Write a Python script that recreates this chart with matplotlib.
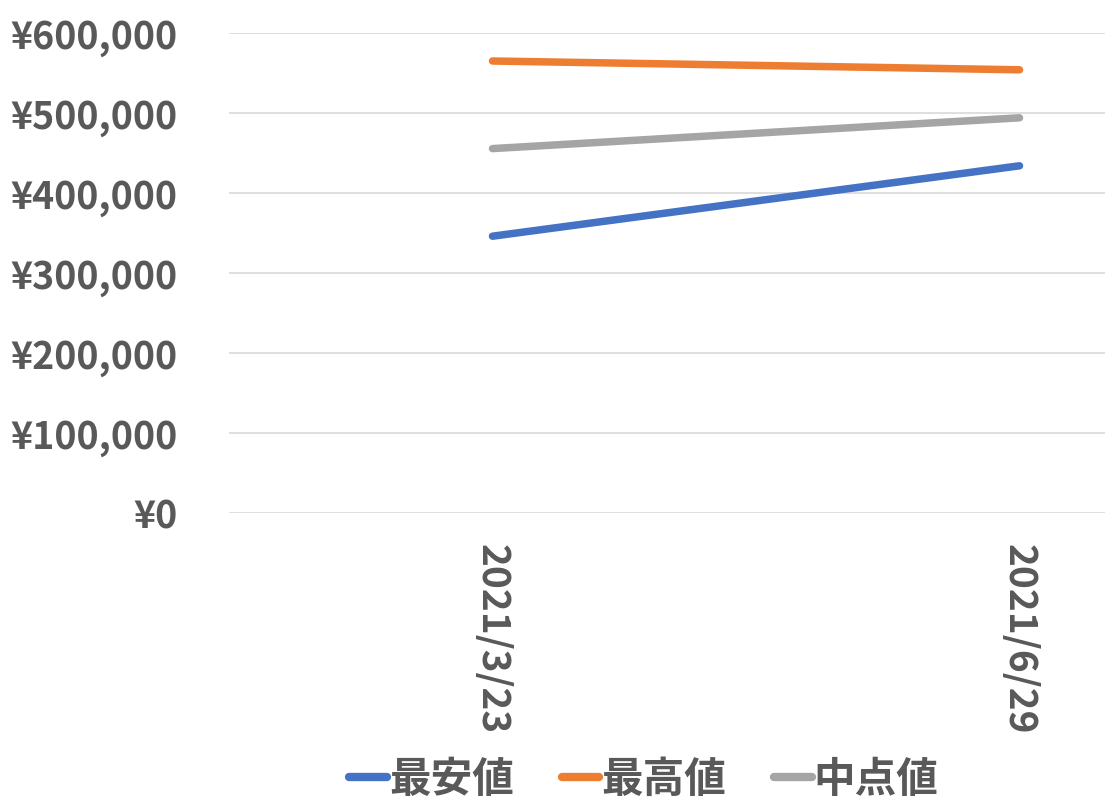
import matplotlib
matplotlib.use("Agg")
import matplotlib.pyplot as plt
from matplotlib.ticker import FuncFormatter, MultipleLocator

plt.rcParams['font.family'] = ['Noto Sans CJK JP', 'DejaVu Sans']

dates = ["2021/3/23", "2021/6/29"]
lowest = [346000, 434000]
highest = [565000, 554000]
midpoint = [455500, 494000]
series_names = ["最安値", "最高値", "中点値"]
colors = ["#4472C4", "#ED7D31", "#A5A5A5"]

W, H = 1105, 808
fig = plt.figure(figsize=(W / 100, H / 100), dpi=100)
# axes: left at 229px, category spacing 527px (extends beyond figure on the right)
left = 229 / W
bottom = (H - 513) / H
height = 480 / H
width = 1054 / W
ax = fig.add_axes([left, bottom, width, height])

x = list(range(len(dates)))
for vals, name, c in zip([lowest, highest, midpoint], series_names, colors):
    ax.plot(x, vals, color=c, lw=5.4, solid_capstyle='round', label=name)

ax.set_xlim(-0.5, 1.5)
ax.set_ylim(0, 600000)
ax.yaxis.set_major_locator(MultipleLocator(100000))
ax.yaxis.set_major_formatter(FuncFormatter(lambda v, p: f"¥{int(v):,}"))
ax.grid(axis='y', color='#D9D9D9', lw=1.2)
ax.set_axisbelow(True)
for s in ax.spines.values():
    s.set_visible(False)
ax.set_xticks(x)
ax.set_xticklabels(dates, rotation=-90, fontsize=28, fontweight='bold', color='#595959')
ax.tick_params(axis='x', length=0, pad=22)
ax.tick_params(axis='y', length=0, pad=37, labelsize=27, labelcolor='#595959')
for t in ax.get_yticklabels():
    t.set_fontweight('bold')

leg = fig.legend(loc='center', bbox_to_anchor=(644 / W, (H - 780) / H), ncol=3,
                 frameon=False, handlelength=0.9, handletextpad=0.05, columnspacing=1.15,
                 prop={'size': 30, 'weight': 'bold'})
for t in leg.get_texts():
    t.set_color('#595959')
for h in leg.get_lines():
    h.set_linewidth(6)
    h.set_solid_capstyle('round')

fig.savefig("out.png", dpi=100)
